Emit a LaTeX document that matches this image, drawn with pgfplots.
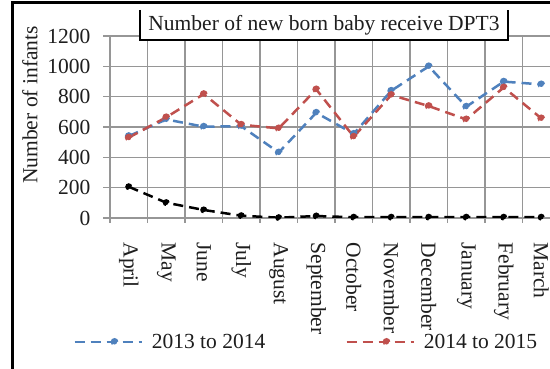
\documentclass[border=0pt]{standalone}
\usepackage{fontspec}
\setmainfont{Liberation Serif}
\usepackage{pgfplots}
\pgfplotsset{compat=1.18}
\definecolor{xblue}{RGB}{79,129,189}
\definecolor{xred}{RGB}{192,80,77}
\definecolor{gridgray}{RGB}{150,150,150}
\definecolor{txt}{RGB}{30,30,30}
\newcommand{\bigf}{\fontsize{21.5}{25}\selectfont}
\begin{document}
\begin{tikzpicture}[x=1pt,y=1pt]
\useasboundingbox (0,0) rectangle (550,369);
\clip (0,0) rectangle (550,369);
\fill[white] (0,0) rectangle (550,369);
\begin{axis}[
  at={(110pt,151pt)}, anchor=south west,
  scale only axis, width=450pt, height=182pt,
  xmin=-0.5, xmax=11.5, ymin=0, ymax=1200,
  xtick={0,...,11},
  xticklabels={April,May,June,July,August,September,October,November,December,January,February,March},
  minor xtick={-0.5,0.5,...,11.5},
  xminorgrids=true, ymajorgrids=true, xmajorgrids=false,
  ytick={0,200,...,1200},
  grid style={gridgray, line width=1.2pt},
  minor grid style={gridgray, line width=1.2pt},
  axis line style={gridgray, line width=1.2pt},
  axis x line*=bottom, axis y line*=left,
  tick align=outside,
  major tick length=7pt, minor tick length=5pt,
  tick style={gridgray, line width=1.2pt},
  major x tick style={draw=none},
  /pgf/number format/assume math mode=true,
  /pgf/number format/1000 sep={},
  yticklabel style={font=\bigf, text=txt, xshift=-9pt},
  xticklabel style={font=\bigf, text=txt, rotate=-90, anchor=west},
  xticklabel shift=14pt,
  legend style={at={(axis description cs:-0.082,-0.681)}, anchor=west, draw=none, fill=none,
    font=\bigf, text=txt, inner sep=0pt, legend columns=2,
    /tikz/every even column/.append style={column sep=78pt}},
  legend image code/.code={\draw[mark repeat=2,mark phase=2] plot coordinates {(0pt,0pt) (40pt,0pt) (67pt,0pt)};\path (74pt,0pt);},
  every axis plot/.append style={line width=2.5pt, dash pattern=on 10pt off 6pt, mark=*, mark size=2.6pt,
    mark options={solid}},
]
\addplot[xblue, mark options={fill=xblue, draw=xblue}] coordinates {
(0,540) (1,650) (2,602) (3,605) (4,432) (5,694) (6,555) (7,839) (8,1000) (9,734) (10,899) (11,881)};
\addlegendentry{2013 to 2014}
\addplot[xred, mark options={fill=xred, draw=xred}] coordinates {
(0,530) (1,664) (2,817) (3,615) (4,591) (5,848) (6,536) (7,811) (8,738) (9,650) (10,861) (11,657)};
\addlegendentry{2014 to 2015}
\addplot[black, forget plot, mark size=2.2pt, mark options={fill=black}] coordinates {
(0,206) (1,101) (2,53) (3,15) (4,2) (5,13) (6,5) (7,5) (8,5) (9,5) (10,5) (11,5)};
\end{axis}
\fill[white] (140,329) rectangle (508,359);
\draw[line width=2.5pt] (140,359) -- (140,329) -- (508,329) -- (508,359);
\node[font=\bigf, text=txt, inner sep=0pt] at (324,344) {Number of new born baby receive DPT3};
\node[rotate=90, font=\bigf, text=txt, inner sep=0pt] at (30,264) {Number of infants};
\draw[line width=3pt] (12,-50) -- (12,366) -- (600,366);
\end{tikzpicture}
\end{document}
